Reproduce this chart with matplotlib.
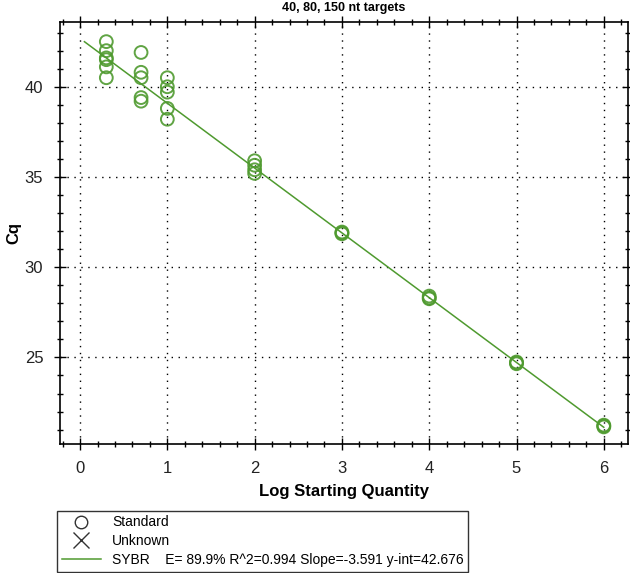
import numpy as np
import matplotlib
matplotlib.use("Agg")
import matplotlib.pyplot as plt
from matplotlib.lines import Line2D
from matplotlib.ticker import MultipleLocator

plt.rcParams['font.family'] = ['Liberation Sans', 'DejaVu Sans']

# standard curve data: log starting quantity and Cq replicates
log_qty = [0.301] * 6 + [0.699] * 5 + [1.0] * 5 + [2.0] * 4 + [3.0] * 3 + [4.0] * 3 + [5.0] * 3 + [6.0] * 3
cq = [42.5, 42.0, 41.6, 41.5, 41.1, 40.5,
      41.9, 40.8, 40.5, 39.4, 39.2,
      40.5, 40.0, 39.7, 38.8, 38.2,
      35.9, 35.65, 35.4, 35.2,
      31.95, 31.85, 31.9,
      28.4, 28.25, 28.3,
      24.75, 24.65, 24.7,
      21.25, 21.2, 21.15]

slope = -3.591
y_int = 42.676
fit_x = [0.05, 6.0]
legend_text = "SYBR    E= 89.9% R^2=0.994 Slope=-3.591 y-int=42.676"

green = '#4f9a2f'

fig = plt.figure(figsize=(6.3, 5.73), dpi=100)
ax = fig.add_axes([0.0952, 0.225, 0.902, 0.737])

fx = np.array(fit_x)
ax.plot(fx, y_int + slope * fx, color=green, lw=1.1, zorder=2)
ax.scatter(log_qty, cq, s=85, facecolors='none', edgecolors=green, linewidths=1.4, alpha=0.9, zorder=3)

ax.set_xlim(-0.23, 6.28)
ax.set_ylim(20.2, 43.6)
ax.xaxis.set_major_locator(MultipleLocator(1))
ax.xaxis.set_minor_locator(MultipleLocator(0.2))
ax.yaxis.set_major_locator(MultipleLocator(5))
ax.yaxis.set_minor_locator(MultipleLocator(1))
ax.tick_params(which='both', direction='inout', top=True, right=True, width=1, colors='black')
ax.tick_params(which='major', length=8, labelsize=12, pad=8)
ax.tick_params(which='minor', length=5)
ax.tick_params(axis='both', labelcolor='#222222')
ax.tick_params(labeltop=False, labelright=False)
for sp in ax.spines.values():
    sp.set_linewidth(1.2)
ax.grid(True, which='major', linestyle=(0, (1, 4)), color='black', lw=1)

ax.set_xlabel('Log Starting Quantity', fontsize=12, fontweight='bold', labelpad=6)
ax.set_ylabel('Cq', fontsize=12, fontweight='bold')
ax.yaxis.set_label_coords(-0.068, 0.5)
ax.set_title('40, 80, 150 nt targets', fontsize=9, fontweight='bold', pad=8)

handles = [
    Line2D([], [], marker='o', ls='none', markerfacecolor='none', markeredgecolor='#333333', markersize=9),
    Line2D([], [], marker='x', ls='none', color='#333333', markersize=11),
    Line2D([], [], color=green, lw=1.1),
]
leg = fig.legend(handles, ['Standard', 'Unknown', legend_text],
                 loc='lower left', bbox_to_anchor=(57 / 630, 1 / 573), borderaxespad=0,
                 fontsize=10, frameon=True, fancybox=False, edgecolor='black',
                 handlelength=2.8, borderpad=0.35, labelspacing=0.35)
leg.get_frame().set_linewidth(1.0)

fig.savefig('out.png', dpi=100)
